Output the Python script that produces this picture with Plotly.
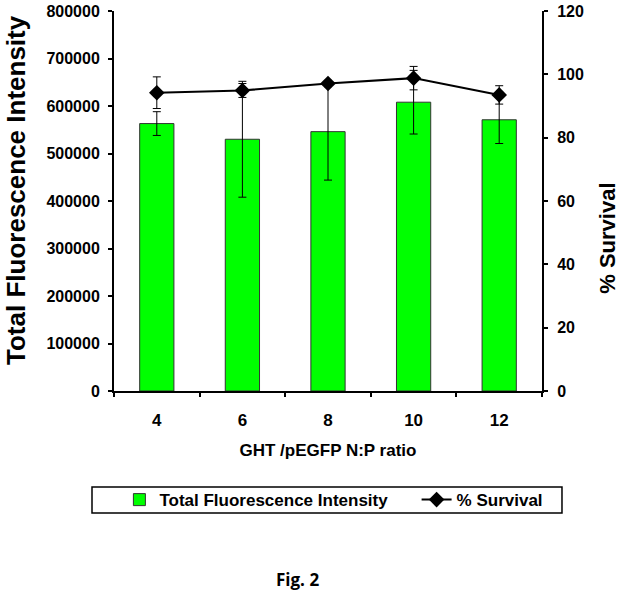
import plotly.graph_objects as go

categories = ["4", "6", "8", "10", "12"]
fluorescence = [563000, 530000, 546000, 608000, 571000]
fluorescence_err = [25000, 122000, 102000, 67000, 50000]
survival = [94.2, 94.9, 97.1, 98.8, 93.5]
survival_err = [5.0, 2.2, 1.0, 3.7, 2.9]

left_ticks = [0, 100000, 200000, 300000, 400000, 500000, 600000, 700000, 800000]
right_ticks = [0, 20, 40, 60, 80, 100, 120]
boundary_ticks = [-0.5, 0.5, 1.5, 2.5, 3.5, 4.5]

FONT = "Liberation Sans, Arial, sans-serif"

fig = go.Figure()
fig.add_trace(go.Bar(
    x=categories, y=fluorescence, name="Total Fluorescence Intensity",
    width=0.4, legend="legend",
    marker=dict(color="#00FF00", line=dict(color="#333333", width=1)),
    error_y=dict(type="data", array=fluorescence_err, color="black", thickness=1, width=4),
))
fig.add_trace(go.Scatter(
    x=categories, y=survival, name="% Survival", yaxis="y2", legend="legend2",
    mode="lines+markers",
    line=dict(color="black", width=2),
    marker=dict(symbol="diamond", size=12, color="black"),
    error_y=dict(type="data", array=survival_err, color="black", thickness=1, width=4),
))

tickfont = dict(family=FONT, size=16, color="black", weight="bold")
legfont = dict(family=FONT, size=17, color="black", weight="bold")

fig.update_layout(
    width=624, height=598, autosize=False,
    margin=dict(l=114, r=82, t=11, b=207, autoexpand=False),
    paper_bgcolor="white", plot_bgcolor="white",
    font=dict(family=FONT, color="black"),
    showlegend=True,
    xaxis=dict(
        type="category", range=[-0.5, 4.5], automargin=False,
        showline=True, linecolor="black", linewidth=2,
        ticks="outside", ticklen=4, tickwidth=2, tickcolor="black",
        tickson="boundaries", showgrid=False, zeroline=False,
        tickfont=dict(family=FONT, size=17, color="black", weight="bold"),
        ticklabelstandoff=13,
        title=dict(text="GHT /pEGFP N:P ratio", standoff=15,
                   font=dict(family=FONT, size=17, color="black", weight="bold")),
    ),
    xaxis2=dict(
        overlaying="x", anchor="y", type="linear", range=[-0.5, 4.5],
        tickmode="array", tickvals=boundary_ticks, showticklabels=False,
        ticks="inside", ticklen=4, tickwidth=2, tickcolor="black",
        showline=False, showgrid=False, zeroline=False,
    ),
    yaxis=dict(
        range=[0, 800000], tickmode="array", tickvals=left_ticks, tickformat="d",
        automargin=False,
        showline=True, linecolor="black", linewidth=2,
        ticks="outside", ticklen=4, tickwidth=2, tickcolor="black",
        showgrid=False, zeroline=False, tickfont=tickfont,
        ticklabelstandoff=5,
    ),
    yaxis3=dict(
        overlaying="y", anchor="x", side="left", range=[0, 800000],
        tickmode="array", tickvals=left_ticks, showticklabels=False,
        ticks="inside", ticklen=4, tickwidth=2, tickcolor="black",
        showline=False, showgrid=False, zeroline=False,
    ),
    yaxis2=dict(
        overlaying="y", side="right", anchor="x", range=[0, 120],
        tickmode="array", tickvals=right_ticks, automargin=False,
        showline=True, linecolor="black", linewidth=2,
        ticks="outside", ticklen=4, tickwidth=2, tickcolor="black",
        showgrid=False, zeroline=False, tickfont=tickfont,
        ticklabelstandoff=6,
    ),
    yaxis4=dict(
        overlaying="y", side="right", anchor="x", range=[0, 120],
        tickmode="array", tickvals=right_ticks, showticklabels=False,
        ticks="inside", ticklen=4, tickwidth=2, tickcolor="black",
        showline=False, showgrid=False, zeroline=False,
    ),
    legend=dict(
        orientation="h", x=0.0126, xanchor="left", y=-0.287, yanchor="middle",
        font=legfont, bgcolor="rgba(0,0,0,0)", borderwidth=0,
    ),
    legend2=dict(
        orientation="h", x=0.707, xanchor="left", y=-0.287, yanchor="middle",
        font=legfont, bgcolor="rgba(0,0,0,0)", borderwidth=0,
    ),
    shapes=[dict(
        type="rect", xref="paper", yref="paper",
        x0=-0.0514, x1=1.0467, y0=-0.321, y1=-0.2526,
        line=dict(color="black", width=1.5), fillcolor="rgba(0,0,0,0)",
    )],
    annotations=[
        dict(text="Total Fluorescence Intensity", textangle=-90,
             xref="paper", yref="paper", x=-0.229, y=0.529,
             xanchor="center", yanchor="middle", showarrow=False,
             font=dict(family=FONT, size=26, color="black", weight="bold")),
        dict(text="% Survival", textangle=-90,
             xref="paper", yref="paper", x=1.154, y=0.403,
             xanchor="center", yanchor="middle", showarrow=False,
             font=dict(family=FONT, size=22, color="black", weight="bold")),
        dict(text="Fig. 2",
             xref="paper", yref="paper", x=0.4276, y=-0.497,
             xanchor="center", yanchor="middle", showarrow=False,
             font=dict(family="Open Sans, Noto Sans, sans-serif", size=17, color="black", weight="bold")),
    ],
)

fig.write_html(
    "out.html",
    config={"displayModeBar": False},
    post_script="document.body.style.margin='0px'; document.body.style.overflow='hidden';",
)
